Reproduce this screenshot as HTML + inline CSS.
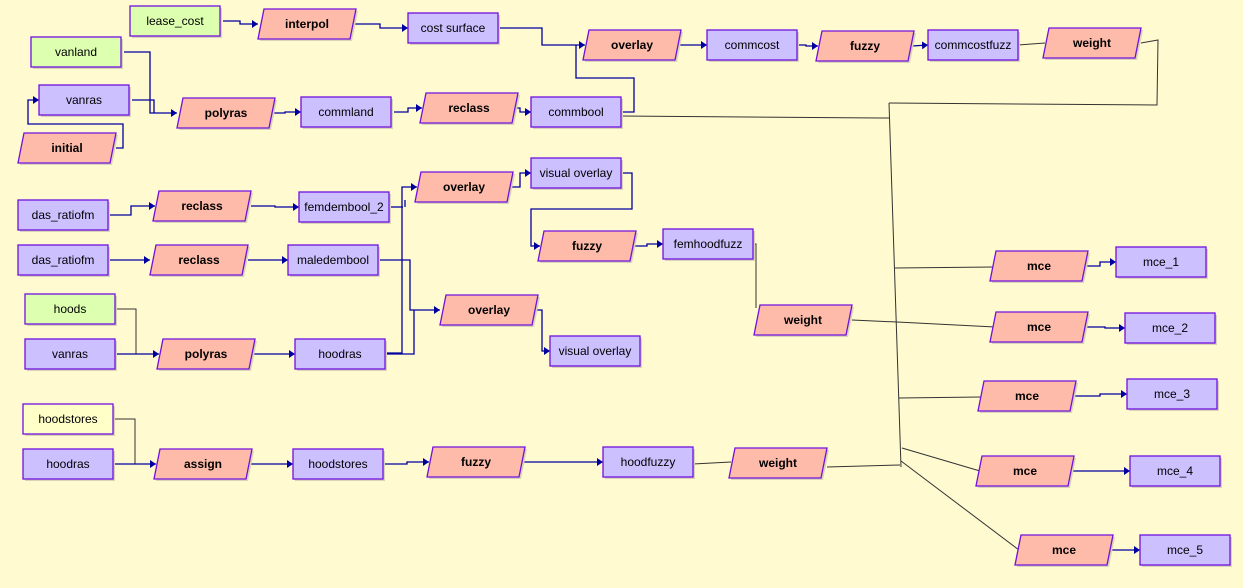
<!DOCTYPE html>
<html><head><meta charset="utf-8"><style>
html,body{margin:0;padding:0;background:#FFFAD0;}
svg{display:block;}
text{font-family:"Liberation Sans",sans-serif;font-size:12px;fill:#000;text-anchor:middle;}
.p text{font-weight:bold;}
</style></head><body>
<svg width="1243" height="588" viewBox="0 0 1243 588" xmlns="http://www.w3.org/2000/svg">
<defs>
<marker id="a" markerWidth="6" markerHeight="8" refX="6" refY="4" orient="auto" markerUnits="userSpaceOnUse">
<path d="M0,0 L6,4 L0,8 z" fill="#0000A0"/></marker>
<g id="r"><rect x="2" y="2" width="90" height="30" fill="#D8D4B8"/><rect x="0" y="0" width="90" height="30" stroke="#7010E0" stroke-width="1.3"/></g>
<g id="q"><polygon points="8,2 100,2 94,32 2,32" fill="#D8D4B8"/><polygon points="6,0 98,0 92,30 0,30" fill="#FFBBAA" stroke="#7010E0" stroke-width="1.3"/></g>
</defs>
<g fill="none" stroke="#333" stroke-width="1">
<polyline points="1141,43 1158,40 1157,105 889,103"/>
<polyline points="621,116 880,118 889,118"/>
<polyline points="889,103 901,467"/>
<polyline points="895,268 994,267"/>
<polyline points="852,320 897,322 995,327"/>
<polyline points="899,398 981,397"/>
<polyline points="827,467 900,465"/>
<polyline points="902,448 980,471"/>
<polyline points="901,461 1019,550"/>
<polyline points="1018,45 1045,43"/>
<polyline points="753,244 756,244 756,308"/>
<polyline points="115,309 136,309 136,354"/>
<polyline points="113,419 135,419 135,464"/>
<polyline points="693,464 731,462"/>
</g>
<g fill="none" stroke="#0000A0" stroke-width="1.3">
<polyline points="223,21 240,21 240,24 258,24" marker-end="url(#a)"/>
<polyline points="354,24 380,24 380,28 408,28" marker-end="url(#a)"/>
<polyline points="124,52 150,52 150,113 177,113" marker-end="url(#a)"/>
<polyline points="132,100 154,100 154,113"/>
<polyline points="116,148 123,148 123,124 28,124 28,100 39,100" marker-end="url(#a)"/>
<polyline points="273,113 285,113 285,112 301,112" marker-end="url(#a)"/>
<polyline points="394,112 408,112 408,108 422,108" marker-end="url(#a)"/>
<polyline points="516,108 520,108 520,112 531,112" marker-end="url(#a)"/>
<polyline points="498,28 542,28 542,45 585,45" marker-end="url(#a)"/>
<polyline points="621,112 634,112 634,78 576,78 576,45"/>
<polyline points="679,45 707,45" marker-end="url(#a)"/>
<polyline points="797,45 806,45 806,46 818,46" marker-end="url(#a)"/>
<polyline points="912,46 928,45" marker-end="url(#a)"/>
<polyline points="108,215 131,215 131,206 155,206" marker-end="url(#a)"/>
<polyline points="251,206 275,206 275,207 299,207" marker-end="url(#a)"/>
<polyline points="389,207 403,207"/>
<polyline points="385,353 402,353 402,187 417,187" marker-end="url(#a)"/>
<polyline points="405,207 405,200"/>
<polyline points="108,260 150,260" marker-end="url(#a)"/>
<polyline points="248,260 288,260" marker-end="url(#a)"/>
<polyline points="378,260 410,260 410,310 440,310" marker-end="url(#a)"/>
<polyline points="385,354 414,354 414,310"/>
<polyline points="511,187 520,187 520,173 531,173" marker-end="url(#a)"/>
<polyline points="621,173 632,173 632,209 531,209 531,246 540,246" marker-end="url(#a)"/>
<polyline points="634,246 647,246 647,244 663,244" marker-end="url(#a)"/>
<polyline points="536,310 542,310 542,351 550,351" marker-end="url(#a)"/>
<polyline points="115,354 159,354" marker-end="url(#a)"/>
<polyline points="253,354 295,354" marker-end="url(#a)"/>
<polyline points="113,464 156,464" marker-end="url(#a)"/>
<polyline points="250,464 293,464" marker-end="url(#a)"/>
<polyline points="383,464 407,464 407,462 429,462" marker-end="url(#a)"/>
<polyline points="523,462 603,462" marker-end="url(#a)"/>
<polyline points="1087,266 1100,266 1100,262 1116,262" marker-end="url(#a)"/>
<polyline points="1087,327 1105,327 1105,328 1125,328" marker-end="url(#a)"/>
<polyline points="1075,396 1100,396 1100,394 1127,394" marker-end="url(#a)"/>
<polyline points="1073,471 1130,471" marker-end="url(#a)"/>
<polyline points="1112,550 1140,550" marker-end="url(#a)"/>
</g>

<g fill="#CCC0FF">
<g transform="translate(130,6)"><use href="#r" fill="#DDFFB0"/><text x="45" y="19">lease_cost</text></g>
<g transform="translate(31,37)"><use href="#r" fill="#DDFFB0"/><text x="45" y="19">vanland</text></g>
<g transform="translate(39,85)"><use href="#r"/><text x="45" y="19">vanras</text></g>
<g transform="translate(301,97)"><use href="#r"/><text x="45" y="19">commland</text></g>
<g transform="translate(408,13)"><use href="#r"/><text x="45" y="19">cost surface</text></g>
<g transform="translate(531,97)"><use href="#r"/><text x="45" y="19">commbool</text></g>
<g transform="translate(707,30)"><use href="#r"/><text x="45" y="19">commcost</text></g>
<g transform="translate(928,30)"><use href="#r"/><text x="45" y="19">commcostfuzz</text></g>
<g transform="translate(18,200)"><use href="#r"/><text x="45" y="19">das_ratiofm</text></g>
<g transform="translate(299,192)"><use href="#r"/><text x="45" y="19">femdembool_2</text></g>
<g transform="translate(531,158)"><use href="#r"/><text x="45" y="19">visual overlay</text></g>
<g transform="translate(18,245)"><use href="#r"/><text x="45" y="19">das_ratiofm</text></g>
<g transform="translate(288,245)"><use href="#r"/><text x="45" y="19">maledembool</text></g>
<g transform="translate(663,229)"><use href="#r"/><text x="45" y="19">femhoodfuzz</text></g>
<g transform="translate(25,294)"><use href="#r" fill="#DDFFB0"/><text x="45" y="19">hoods</text></g>
<g transform="translate(25,339)"><use href="#r"/><text x="45" y="19">vanras</text></g>
<g transform="translate(295,339)"><use href="#r"/><text x="45" y="19">hoodras</text></g>
<g transform="translate(550,336)"><use href="#r"/><text x="45" y="19">visual overlay</text></g>
<g transform="translate(23,404)"><use href="#r" fill="#FFFFC8"/><text x="45" y="19">hoodstores</text></g>
<g transform="translate(23,449)"><use href="#r"/><text x="45" y="19">hoodras</text></g>
<g transform="translate(293,449)"><use href="#r"/><text x="45" y="19">hoodstores</text></g>
<g transform="translate(603,447)"><use href="#r"/><text x="45" y="19">hoodfuzzy</text></g>
<g transform="translate(1116,247)"><use href="#r"/><text x="45" y="19">mce_1</text></g>
<g transform="translate(1125,313)"><use href="#r"/><text x="45" y="19">mce_2</text></g>
<g transform="translate(1127,379)"><use href="#r"/><text x="45" y="19">mce_3</text></g>
<g transform="translate(1130,456)"><use href="#r"/><text x="45" y="19">mce_4</text></g>
<g transform="translate(1140,535)"><use href="#r"/><text x="45" y="19">mce_5</text></g>
</g>

<g class="p">
<g transform="translate(18,133)"><use href="#q"/><text x="49" y="19">initial</text></g>
<g transform="translate(258,9)"><use href="#q"/><text x="49" y="19">interpol</text></g>
<g transform="translate(177,98)"><use href="#q"/><text x="49" y="19">polyras</text></g>
<g transform="translate(420,93)"><use href="#q"/><text x="49" y="19">reclass</text></g>
<g transform="translate(583,30)"><use href="#q"/><text x="49" y="19">overlay</text></g>
<g transform="translate(816,31)"><use href="#q"/><text x="49" y="19">fuzzy</text></g>
<g transform="translate(1043,28)"><use href="#q"/><text x="49" y="19">weight</text></g>
<g transform="translate(153,191)"><use href="#q"/><text x="49" y="19">reclass</text></g>
<g transform="translate(415,172)"><use href="#q"/><text x="49" y="19">overlay</text></g>
<g transform="translate(150,245)"><use href="#q"/><text x="49" y="19">reclass</text></g>
<g transform="translate(538,231)"><use href="#q"/><text x="49" y="19">fuzzy</text></g>
<g transform="translate(440,295)"><use href="#q"/><text x="49" y="19">overlay</text></g>
<g transform="translate(157,339)"><use href="#q"/><text x="49" y="19">polyras</text></g>
<g transform="translate(754,305)"><use href="#q"/><text x="49" y="19">weight</text></g>
<g transform="translate(154,449)"><use href="#q"/><text x="49" y="19">assign</text></g>
<g transform="translate(427,447)"><use href="#q"/><text x="49" y="19">fuzzy</text></g>
<g transform="translate(729,448)"><use href="#q"/><text x="49" y="19">weight</text></g>
<g transform="translate(990,251)"><use href="#q"/><text x="49" y="19">mce</text></g>
<g transform="translate(990,312)"><use href="#q"/><text x="49" y="19">mce</text></g>
<g transform="translate(978,381)"><use href="#q"/><text x="49" y="19">mce</text></g>
<g transform="translate(976,456)"><use href="#q"/><text x="49" y="19">mce</text></g>
<g transform="translate(1015,535)"><use href="#q"/><text x="49" y="19">mce</text></g>
</g>
</svg>
</body></html>
